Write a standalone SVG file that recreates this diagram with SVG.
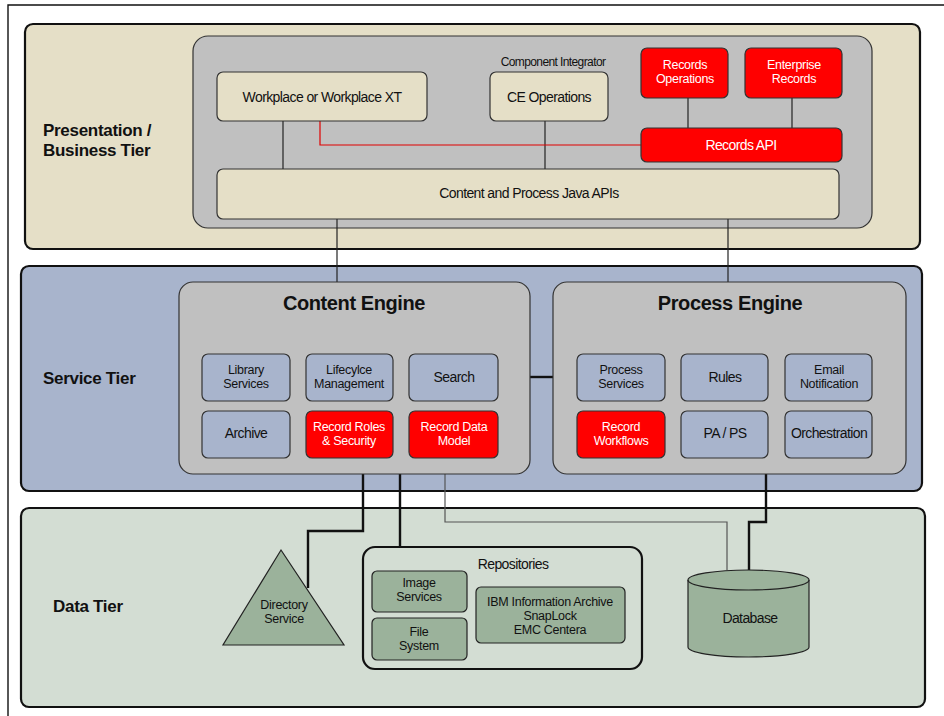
<svg xmlns="http://www.w3.org/2000/svg" width="944" height="716" viewBox="0 0 944 716">
<style>
text{font-family:"Liberation Sans",Arial,sans-serif;font-size:14px;letter-spacing:-0.6px;fill:#111;text-anchor:middle}
.t2{font-size:12.5px;letter-spacing:-0.3px}
.tier{stroke:#111;stroke-width:2.2}
.inner{fill:#C0C0C0;stroke:#333;stroke-width:1.2}
.beige{fill:#E5DFC7}
.blue{fill:#A8B4CC}
.data{fill:#D3DDD3}
.green{fill:#9BB29B;stroke:#222;stroke-width:1.2}
.box{stroke:#333;stroke-width:1.2}
.red{fill:#FF0000;stroke:#333;stroke-width:1.2}
.w{fill:#fff}
.lbl{font-weight:bold;font-size:17px;text-anchor:start;letter-spacing:-0.3px}
.title{font-weight:bold;font-size:20px;letter-spacing:-0.4px}
.c{fill:none;stroke:#222;stroke-width:1.2}
.ct{fill:none;stroke:#111;stroke-width:2.4}
.cg{fill:none;stroke:#555;stroke-width:1.2}
.cr{fill:none;stroke:#E00000;stroke-width:1.2}
</style>
<g id="frame"><path d="M8,716 V5 H944" fill="none" stroke="#111" stroke-width="1.4"/></g>

<g id="presentation-tier">
<rect class="tier beige" x="25" y="24" width="895" height="225" rx="8"/>
<text class="lbl" x="43" y="136">Presentation /</text>
<text class="lbl" x="43" y="156">Business Tier</text>
<rect class="inner" x="193" y="36" width="679" height="192" rx="15"/>
</g>

<g id="service-tier">
<rect class="tier blue" x="21" y="266" width="901" height="225" rx="8"/>
<text class="lbl" x="43" y="384">Service Tier</text>
</g>

<g id="data-tier">
<rect class="tier data" x="21" y="508" width="904" height="199" rx="8"/>
<text class="lbl" x="53" y="612">Data Tier</text>
</g>

<g id="connectors">
<path class="c" d="M283,121 V169"/>
<path class="c" d="M545,121 V169"/>
<path class="c" d="M688,98 V128"/>
<path class="c" d="M792,98 V128"/>
<path class="cr" d="M320,121 V145 H641"/>
<path class="c" d="M337,219 V282"/>
<path class="c" d="M728,219 V282"/>
<path class="ct" d="M530,377 H553"/>
<path class="ct" d="M363,474 V531 H308 V588"/>
<path class="ct" d="M400,474 V547"/>
<path class="cg" d="M445,474 V522 H727 V570"/>
<path class="ct" d="M766,474 V522 H749 V570"/>
</g>

<g id="workplace">
<rect class="box beige" x="217" y="72" width="210" height="49" rx="6"/>
<text x="322" y="102">Workplace or Workplace XT</text>
</g>
<g id="ce-operations">
<text x="553" y="66" style="font-size:12px">Component Integrator</text>
<rect class="box beige" x="490" y="72" width="118" height="49" rx="6"/>
<text x="549" y="102">CE Operations</text>
</g>
<g id="records-operations">
<rect class="red" x="641" y="48" width="87" height="50" rx="6"/>
<text class="w t2" x="685" y="69">Records</text>
<text class="w t2" x="685" y="83">Operations</text>
</g>
<g id="enterprise-records">
<rect class="red" x="745" y="48" width="97" height="50" rx="6"/>
<text class="w t2" x="794" y="69">Enterprise</text>
<text class="w t2" x="794" y="83">Records</text>
</g>
<g id="records-api">
<rect class="red" x="641" y="128" width="201" height="34" rx="6"/>
<text class="w" x="741" y="150">Records API</text>
</g>
<g id="java-apis">
<rect class="box beige" x="217" y="169" width="622" height="50" rx="6"/>
<text x="529" y="198">Content and Process Java APIs</text>
</g>

<g id="content-engine">
<rect class="inner" x="179" y="282" width="351" height="192" rx="14"/>
<text class="title" x="354" y="310">Content Engine</text>
</g>
<g id="library-services"><rect class="box blue" x="202" y="354" width="88" height="47" rx="6"/><text class="t2" x="246" y="374">Library</text><text class="t2" x="246" y="388">Services</text></g>
<g id="lifecycle"><rect class="box blue" x="306" y="354" width="87" height="47" rx="6"/><text class="t2" x="349" y="374">Lifecylce</text><text class="t2" x="349" y="388">Management</text></g>
<g id="search"><rect class="box blue" x="409" y="354" width="89" height="47" rx="6"/><text x="454" y="382">Search</text></g>
<g id="archive"><rect class="box blue" x="202" y="411" width="88" height="47" rx="6"/><text x="246" y="438">Archive</text></g>
<g id="record-roles"><rect class="red" x="306" y="411" width="87" height="47" rx="6"/><text class="w t2" x="349" y="431">Record Roles</text><text class="w t2" x="349" y="445">&amp; Security</text></g>
<g id="record-data-model"><rect class="red" x="409" y="411" width="89" height="47" rx="6"/><text class="w t2" x="454" y="431">Record Data</text><text class="w t2" x="454" y="445">Model</text></g>

<g id="process-engine">
<rect class="inner" x="553" y="282" width="353" height="192" rx="14"/>
<text class="title" x="730" y="310">Process Engine</text>
</g>
<g id="process-services"><rect class="box blue" x="577" y="354" width="88" height="47" rx="6"/><text class="t2" x="621" y="374">Process</text><text class="t2" x="621" y="388">Services</text></g>
<g id="rules"><rect class="box blue" x="681" y="354" width="87" height="47" rx="6"/><text x="725" y="382">Rules</text></g>
<g id="email"><rect class="box blue" x="785" y="354" width="87" height="47" rx="6"/><text class="t2" x="829" y="374">Email</text><text class="t2" x="829" y="388">Notification</text></g>
<g id="record-workflows"><rect class="red" x="577" y="411" width="88" height="47" rx="6"/><text class="w t2" x="621" y="431">Record</text><text class="w t2" x="621" y="445">Workflows</text></g>
<g id="pa-ps"><rect class="box blue" x="681" y="411" width="87" height="47" rx="6"/><text x="725" y="438">PA / PS</text></g>
<g id="orchestration"><rect class="box blue" x="785" y="411" width="87" height="47" rx="6"/><text x="829" y="438">Orchestration</text></g>

<g id="directory-service">
<polygon class="green" points="281,550 344,645 223,645"/>
<text class="t2" x="284" y="609">Directory</text>
<text class="t2" x="284" y="623">Service</text>
</g>

<g id="repositories">
<rect class="data" x="363" y="547" width="279" height="122" rx="12" stroke="#111" stroke-width="2.2"/>
<text x="513" y="569">Repositories</text>
</g>
<g id="image-services"><rect class="green" x="372" y="571" width="95" height="41" rx="5"/><text class="t2" x="419" y="587">Image</text><text class="t2" x="419" y="601">Services</text></g>
<g id="file-system"><rect class="green" x="372" y="618" width="95" height="42" rx="5"/><text class="t2" x="419" y="636">File</text><text class="t2" x="419" y="650">System</text></g>
<g id="ibm-archive"><rect class="green" x="476" y="587" width="149" height="56" rx="5"/><text class="t2" x="550" y="606">IBM Information Archive</text><text class="t2" x="550" y="620">SnapLock</text><text class="t2" x="550" y="634">EMC Centera</text></g>

<g id="database">
<path class="green" d="M688,580 A60.5,10 0 0 1 809,580 V647 A60.5,10 0 0 1 688,647 Z"/>
<path d="M688,580 A60.5,10 0 0 0 809,580" fill="none" stroke="#222" stroke-width="1.2"/>
<text x="750" y="623">Database</text>
</g>
</svg>
